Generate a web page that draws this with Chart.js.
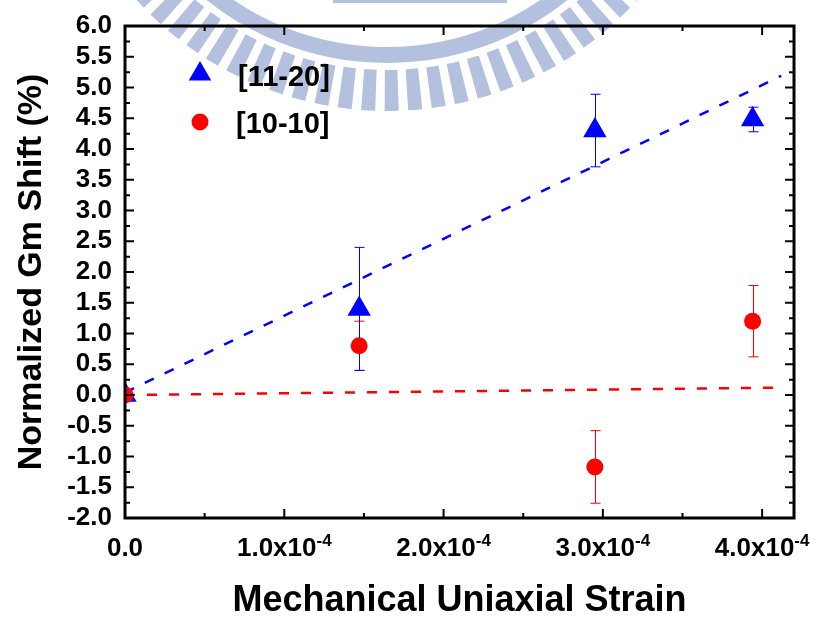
<!DOCTYPE html>
<html>
<head>
<meta charset="utf-8">
<script src="https://cdn.jsdelivr.net/npm/chart.js@4/dist/chart.umd.min.js"></script>
<style>
  body { margin: 0; background: #fff; }
  #wrap { width: 817px; height: 620px; }
</style>
</head>
<body>
<div id="wrap"><canvas id="gmChart" width="817" height="620"></canvas></div>
<script>
// measured points
const strain = [0, 1.47e-4, 2.95e-4, 3.94e-4];
const shift1120 = [0, 1.4, 4.3, 4.48];
const err1120 = [0, 1.0, 0.59, 0.2];
const shift1010 = [0, 0.8, -1.17, 1.2];
const err1010 = [0, 0.4, 0.59, 0.58];

// linear fits (dashed)
const fitStrain = [0, 4.12e-4];
const fit1120 = [0.04, 5.19];
const fit1010 = [0.0, 0.12];

// x tick labels: mantissa + superscript
const xTickValues = [0, 1e-4, 2e-4, 3e-4, 4e-4];
const xTickMain = ['0.0', '1.0x10', '2.0x10', '3.0x10', '4.0x10'];
const xTickSup = ['', '-4', '-4', '-4', '-4'];

const legendLabels = ['[11-20]', '[10-10]'];

const FONT = "'Liberation Sans', Arial, sans-serif";
const BLUE = '#0000ff';
const RED = '#ff0000';

function pts(xs, ys) {
  return xs.map((x, i) => ({ x: x, y: ys[i] }));
}

// light blue logo in the background
const watermark = {
  id: 'watermark',
  beforeDraw(chart) {
    const ctx = chart.ctx;
    const cx = 387, cy = -227;
    ctx.save();
    ctx.fillStyle = '#b3c1df';
    ctx.beginPath();
    ctx.arc(cx, cy, 290, 0, Math.PI * 2);
    ctx.arc(cx, cy, 274, 0, Math.PI * 2, true);
    ctx.fill();
    for (let a = 0; a < 360; a += 4) {
      const r0 = a * Math.PI / 180, r1 = (a + 2.4) * Math.PI / 180;
      ctx.beginPath();
      ctx.arc(cx, cy, 338, r0, r1);
      ctx.arc(cx, cy, 297, r1, r0, true);
      ctx.closePath();
      ctx.fill();
    }
    ctx.fillRect(333, 0, 174, 3);
    ctx.restore();
  }
};

const errorBars = {
  id: 'errorBars',
  beforeDatasetsDraw(chart) {
    const ctx = chart.ctx;
    const xs = chart.scales.x, ys = chart.scales.y;
    const a = chart.chartArea;
    ctx.save();
    ctx.beginPath();
    ctx.rect(a.left, a.top, a.right - a.left, a.bottom - a.top);
    ctx.clip();
    ctx.lineWidth = 1;
    [[shift1010, err1010, RED], [shift1120, err1120, BLUE]].forEach(([vals, errs, col]) => {
      ctx.strokeStyle = col;
      strain.forEach((s, i) => {
        if (!errs[i]) return;
        const px = Math.round(xs.getPixelForValue(s)) + 0.5;
        const top = ys.getPixelForValue(vals[i] + errs[i]);
        const bot = ys.getPixelForValue(vals[i] - errs[i]);
        ctx.beginPath();
        ctx.moveTo(px, top); ctx.lineTo(px, bot);
        ctx.moveTo(px - 5, top); ctx.lineTo(px + 5, top);
        ctx.moveTo(px - 5, bot); ctx.lineTo(px + 5, bot);
        ctx.stroke();
      });
    });
    ctx.restore();
  }
};

const frame = {
  id: 'frame',
  afterDraw(chart) {
    const ctx = chart.ctx;
    const a = chart.chartArea;
    const xs = chart.scales.x, ys = chart.scales.y;
    ctx.save();
    ctx.strokeStyle = '#000';
    ctx.lineWidth = 2;
    // y ticks, inward on left and right
    for (let v = ys.min; v <= ys.max + 1e-9; v += 0.25) {
      const py = ys.getPixelForValue(v);
      const major = Math.abs(v * 2 - Math.round(v * 2)) < 1e-6;
      const len = major ? 9 : 5;
      ctx.beginPath();
      ctx.moveTo(a.left, py); ctx.lineTo(a.left + len, py);
      ctx.moveTo(a.right, py); ctx.lineTo(a.right - len, py);
      ctx.stroke();
    }
    // x ticks, inward on bottom and top
    for (let k = 0; k * 0.5e-4 <= xs.max + 1e-12; k++) {
      const px = xs.getPixelForValue(k * 0.5e-4);
      const len = k % 2 === 0 ? 9 : 5;
      ctx.beginPath();
      ctx.moveTo(px, a.bottom); ctx.lineTo(px, a.bottom - len);
      ctx.moveTo(px, a.top); ctx.lineTo(px, a.top + len);
      ctx.stroke();
    }
    ctx.lineWidth = 3;
    ctx.strokeRect(a.left, a.top, a.right - a.left, a.bottom - a.top);

    // x tick labels with superscripts
    ctx.fillStyle = '#000';
    ctx.textBaseline = 'alphabetic';
    ctx.textAlign = 'left';
    xTickValues.forEach((v, i) => {
      const px = xs.getPixelForValue(v);
      ctx.font = 'bold 26px ' + FONT;
      const w1 = ctx.measureText(xTickMain[i]).width;
      ctx.font = 'bold 17px ' + FONT;
      const w2 = xTickSup[i] ? ctx.measureText(xTickSup[i]).width : 0;
      const x0 = px - (w1 + w2) / 2;
      ctx.font = 'bold 26px ' + FONT;
      ctx.fillText(xTickMain[i], x0, 556);
      if (xTickSup[i]) {
        ctx.font = 'bold 17px ' + FONT;
        ctx.fillText(xTickSup[i], x0 + w1, 546);
      }
    });

    // legend
    ctx.fillStyle = BLUE;
    const tx = 200, ty = 74, r = 13;
    ctx.beginPath();
    ctx.moveTo(tx, ty - r);
    ctx.lineTo(tx + r * Math.sin(2 * Math.PI / 3), ty - r * Math.cos(2 * Math.PI / 3));
    ctx.lineTo(tx + r * Math.sin(4 * Math.PI / 3), ty - r * Math.cos(4 * Math.PI / 3));
    ctx.closePath();
    ctx.fill();
    ctx.fillStyle = RED;
    ctx.beginPath();
    ctx.arc(200, 122, 8.5, 0, Math.PI * 2);
    ctx.fill();
    ctx.fillStyle = '#000';
    ctx.font = 'bold 29px ' + FONT;
    ctx.textBaseline = 'middle';
    ctx.fillText(legendLabels[0], 238, 78);
    ctx.fillText(legendLabels[1], 236, 125);
    ctx.restore();
  }
};

new Chart(document.getElementById('gmChart'), {
  type: 'line',
  data: {
    datasets: [
      {
        label: legendLabels[1],
        data: pts(strain, shift1010),
        showLine: false,
        pointStyle: 'circle',
        pointRadius: 8.5,
        pointBorderWidth: 0,
        pointBackgroundColor: RED,
        pointBorderColor: RED,
        order: 0
      },
      {
        label: legendLabels[0],
        data: pts(strain, shift1120),
        showLine: false,
        pointStyle: 'triangle',
        pointRadius: 13.5,
        pointBorderWidth: 0,
        pointBackgroundColor: BLUE,
        pointBorderColor: BLUE,
        order: 1
      },
      {
        label: 'fit 11-20',
        data: pts(fitStrain, fit1120),
        borderColor: BLUE,
        borderWidth: 2.5,
        borderDash: [10, 12],
        pointRadius: 0,
        order: 2
      },
      {
        label: 'fit 10-10',
        data: pts(fitStrain, fit1010),
        borderColor: RED,
        borderWidth: 2.5,
        borderDash: [10, 12],
        pointRadius: 0,
        order: 3
      }
    ]
  },
  options: {
    responsive: false,
    animation: false,
    layout: { padding: { top: 22, right: 23, left: 0, bottom: 0 } },
    plugins: {
      legend: { display: false },
      tooltip: { enabled: false }
    },
    scales: {
      x: {
        type: 'linear',
        min: 0,
        max: 4.2e-4,
        grid: { display: false },
        border: { display: false },
        ticks: { display: false },
        title: {
          display: true,
          text: 'Mechanical Uniaxial Strain',
          color: '#000',
          font: { family: FONT, size: 36, weight: 'bold', lineHeight: 1 },
          padding: { top: 0, bottom: 1 }
        },
        afterFit(scale) { scale.height = 102; }
      },
      y: {
        type: 'linear',
        min: -2,
        max: 6,
        grid: { display: false, drawTicks: false },
        border: { display: false },
        ticks: {
          stepSize: 0.5,
          autoSkip: false,
          padding: 13,
          color: '#000',
          font: { family: FONT, size: 26, weight: 'bold', lineHeight: 1 },
          callback: v => v.toFixed(1)
        },
        title: {
          display: true,
          text: 'Normalized Gm Shift (%)',
          color: '#000',
          font: { family: FONT, size: 34, weight: 'bold', lineHeight: 1 },
          padding: { top: 15, bottom: 0 }
        },
        afterFit(scale) { scale.width = 125; }
      }
    }
  },
  plugins: [watermark, errorBars, frame]
});
</script>
</body>
</html>
